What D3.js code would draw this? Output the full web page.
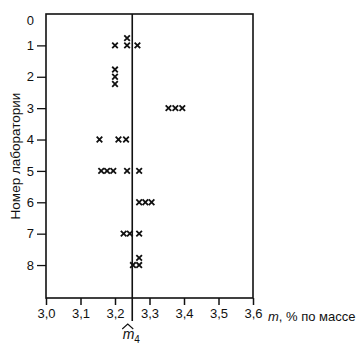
<!DOCTYPE html>
<html>
<head>
<meta charset="utf-8">
<script src="https://cdn.jsdelivr.net/npm/d3@7"></script>
<style>
  html, body { margin: 0; padding: 0; background: #fff; }
  svg { display: block; font-family: "Liberation Sans", Arial, sans-serif; }
</style>
</head>
<body>
<svg id="chart" width="363" height="356"></svg>
<script>
// ---- data ----
const labNumbers = [0, 1, 2, 3, 4, 5, 6, 7, 8];
const xTicks = [3.0, 3.1, 3.2, 3.3, 3.4, 3.5, 3.6];
const meanValue = 3.25;
// each result: laboratory, measured m, stacking level for coincident results
const resultLab   = [1, 1, 1, 1,   2, 2, 2,   3, 3, 3,   4, 4, 4,   5, 5, 5, 5, 5,   6, 6, 6,   7, 7, 7,   8, 8, 8];
const resultM     = [3.20, 3.235, 3.235, 3.265,   3.20, 3.20, 3.20,   3.355, 3.375, 3.395,   3.155, 3.21, 3.232,
                     3.16, 3.177, 3.195, 3.235, 3.27,   3.27, 3.288, 3.306,   3.225, 3.243, 3.27,   3.252, 3.27, 3.27];
const resultLevel = [0, 0, 1, 0,   1, 0, -1,   0, 0, 0,   0, 0, 0,   0, 0, 0, 0, 0,   0, 0, 0,   0, 0, 0,   0, 0, 1];

const svg = d3.select("#chart");
const mLeft = 46, mRight = 253, mTop = 14, mBottom = 298;

const x = d3.scaleLinear().domain([3.0, 3.6]).range([mLeft, mRight]);
const y = d3.scaleLinear().domain([0, 9.05]).range([mTop, mBottom]);
const fmt = d => d.toFixed(1).replace(".", ",");

// frame
svg.append("rect")
  .attr("x", mLeft).attr("y", mTop)
  .attr("width", mRight - mLeft).attr("height", mBottom - mTop)
  .attr("fill", "none").attr("stroke", "#111").attr("stroke-width", 1.6);

// x axis
const xAxis = svg.append("g")
  .attr("transform", `translate(0,${mBottom})`)
  .call(d3.axisBottom(x).tickValues(xTicks).tickFormat(fmt).tickSize(7).tickPadding(4));
xAxis.select(".domain").remove();
xAxis.selectAll("line").attr("stroke", "#111").attr("stroke-width", 1.5);
xAxis.selectAll("text").attr("font-size", 13).attr("fill", "#111")
  .attr("font-family", "Liberation Sans, Arial, sans-serif");

// y axis
const yAxis = svg.append("g")
  .attr("transform", `translate(${mLeft},0)`)
  .call(d3.axisLeft(y).tickValues(labNumbers).tickFormat(d3.format("d")).tickSize(9).tickPadding(3));
yAxis.select(".domain").remove();
yAxis.selectAll("line").attr("stroke", "#111").attr("stroke-width", 1.3)
  .attr("display", d => d === 0 ? "none" : null);
yAxis.selectAll("text").attr("font-size", 13).attr("fill", "#111")
  .attr("font-family", "Liberation Sans, Arial, sans-serif")
  .attr("dy", d => d === 0 ? "0.78em" : "0.32em");

// vertical line at the mean
svg.append("line")
  .attr("x1", x(meanValue)).attr("x2", x(meanValue))
  .attr("y1", mTop).attr("y2", 321)
  .attr("stroke", "#111").attr("stroke-width", 1.6);

// markers
const pts = resultLab.map((lab, i) => ({ lab, m: resultM[i], level: resultLevel[i] }));
const s = 2.8;
svg.append("g").selectAll("path").data(pts).join("path")
  .attr("transform", d => `translate(${x(d.m)},${y(d.lab - d.level * 0.23)})`)
  .attr("d", `M${-s},${-s}L${s},${s}M${-s},${s}L${s},${-s}`)
  .attr("stroke", "#111").attr("stroke-width", 1.8).attr("fill", "none");

// axis titles
svg.append("text")
  .attr("transform", `translate(20,156) rotate(-90)`)
  .attr("text-anchor", "middle")
  .attr("font-size", 13.5).attr("fill", "#111")
  .text("Номер лаборатории");

const xt = svg.append("text")
  .attr("x", 268).attr("y", 320.5)
  .attr("font-size", 13).attr("fill", "#111");
xt.append("tspan").attr("font-style", "italic").text("m");
xt.append("tspan").text(", % по массе");

// m-hat-4 label
const mx = x(meanValue);
const ml = svg.append("text")
  .attr("x", mx - 1).attr("y", 339)
  .attr("text-anchor", "middle")
  .attr("font-size", 14).attr("fill", "#111");
ml.append("tspan").attr("font-style", "italic").text("m");
ml.append("tspan").attr("font-size", 10).attr("dy", 4).text("4");
svg.append("path")
  .attr("d", `M${mx - 10},${329} L${mx - 4.5},${324} L${mx + 1},${329}`)
  .attr("stroke", "#111").attr("stroke-width", 1.1).attr("fill", "none");
</script>
</body>
</html>
